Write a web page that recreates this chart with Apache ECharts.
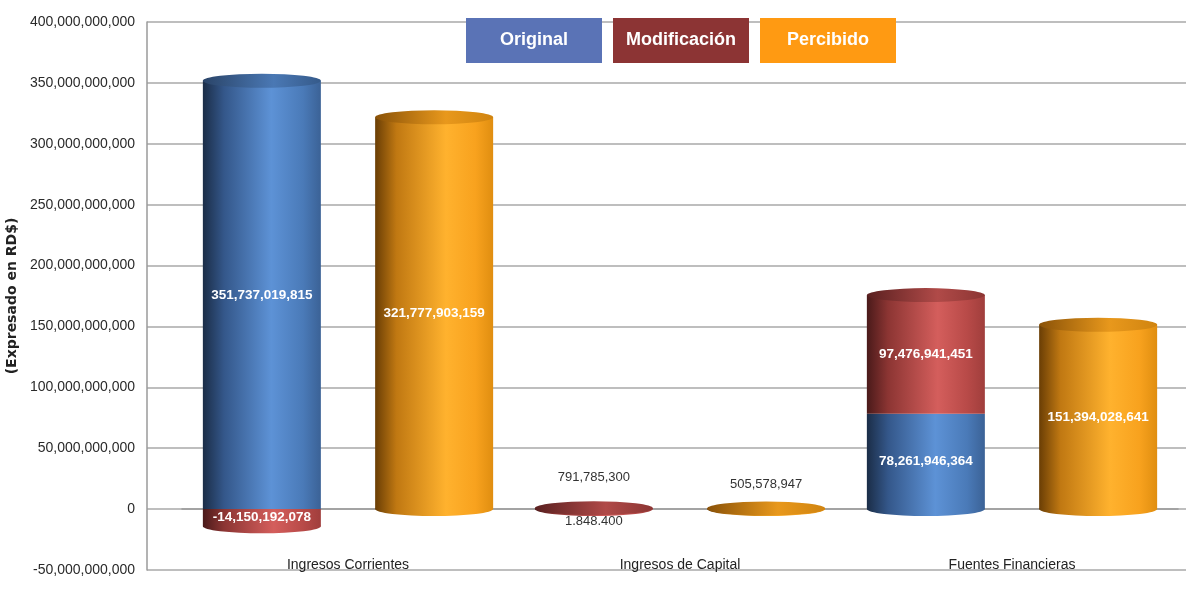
<!DOCTYPE html>
<html><head><meta charset="utf-8">
<script src="https://cdn.jsdelivr.net/npm/echarts@6/dist/echarts.min.js"></script>
<style>html,body{margin:0;padding:0;background:#fff}#c{width:1186px;height:609px}</style>
</head><body><div id="c"></div>
<script>
// ---- data ----
const categories = ['Ingresos Corrientes', 'Ingresos de Capital', 'Fuentes Financieras'];
const original = [351737019815, 1848400, 78261946364];
const modificacion = [-14150192078, 791785300, 97476941451];
const percibido = [321777903159, 505578947, 151394028641];
const seriesNames = ['Original', 'Modificación', 'Percibido'];
const axisMin = -50000000000, axisMax = 400000000000, axisStep = 50000000000;
const yAxisTitle = '(Expresado en RD$)';

// ---- styling ----
const FONT = '"Liberation Sans","Arial",sans-serif';
const BAR_W = 118, GAP = 0.46, CAP_H = 14, SMALL = 5e9;
function grad(stops) {
  return { type: 'linear', x: 0, y: 0, x2: 1, y2: 0, colorStops: stops.map(s => ({ offset: s[0], color: s[1] })) };
}
const blueBody = grad([[0, '#1b2d47'], [0.18, '#34578a'], [0.58, '#5d92d6'], [0.85, '#4a7ab8'], [1, '#3b6296']]);
const redBody = grad([[0, '#4a1a1a'], [0.18, '#8c3533'], [0.6, '#d45e5c'], [0.85, '#b84a48'], [1, '#a03e3c']]);
const orangeBody = grad([[0, '#6a3e05'], [0.18, '#c07812'], [0.6, '#ffb22e'], [0.85, '#f8a21e'], [1, '#e08e10']]);
const blueCap = grad([[0, '#2a4468'], [0.6, '#4a78b4'], [1, '#355a8a']]);
const redCap = grad([[0, '#5a2020'], [0.6, '#b04a48'], [1, '#8c3533']]);
const orangeCap = grad([[0, '#8a5208'], [0.6, '#e8981c'], [1, '#d08410']]);
const legendColors = ['#5A73B6', '#8C3434', '#FF9A12'];
const legendKeys = ['o', 'm', 'p'];

function fmt(v, sep) {
  sep = sep || ',';
  const s = Math.abs(Math.round(v)).toString().replace(/\B(?=(\d{3})+(?!\d))/g, sep);
  return (v < 0 ? '-' : '') + s;
}
const whiteLabel = { show: true, position: 'inside', color: '#fff', fontFamily: FONT, fontWeight: 'bold', fontSize: 13.5, formatter: p => fmt(p.value) };
const darkLabel = (pos, dist) => ({ show: true, position: pos, color: '#333', fontFamily: FONT, fontWeight: 'normal', fontSize: 13, distance: dist, formatter: p => fmt(p.value) });

const originalData = original.map(v => ({
  value: v,
  label: Math.abs(v) < SMALL ? Object.assign(darkLabel('bottom', 6), { formatter: p => fmt(p.value, '.') }) : whiteLabel
}));
const modData = modificacion.map(v => ({ value: v, label: Math.abs(v) < SMALL ? darkLabel('top', 24) : whiteLabel }));
const percData = percibido.map(v => ({ value: v, label: Math.abs(v) < SMALL ? darkLabel('top', 18) : whiteLabel }));

// cylinder caps derived from the stacked values
const slotOff = ((1 + GAP) / 2 * 100).toFixed(1) + '%';
const stackTop = original.map((v, i) => ({ value: v + Math.max(modificacion[i], 0), itemStyle: { color: modificacion[i] > 0 ? redCap : blueCap } }));
const stackBottom = original.map((v, i) => {
  const b = Math.min(modificacion[i], 0);
  return { value: b, symbolOffset: ['-' + slotOff, b < 0 ? CAP_H / 2 : -CAP_H / 2],
    itemStyle: { color: (modificacion[i] < 0 || v < SMALL) ? redBody : blueBody } };
});
const percTop = percibido.map(v => ({ value: v, itemStyle: { color: orangeCap } }));
const percBottom = percibido.map(() => ({ value: 0, symbolOffset: [slotOff, -CAP_H / 2], itemStyle: { color: orangeBody } }));

function cap(data, left, top) {
  return {
    type: 'pictorialBar', xAxisIndex: 1, yAxisIndex: 1, symbol: 'circle', silent: true,
    barWidth: BAR_W, barGap: '-100%', symbolSize: [BAR_W, CAP_H], symbolPosition: 'end',
    symbolOffset: [(left ? '-' : '') + slotOff, -CAP_H / 2],
    z: top ? 3 : 1, data: data
  };
}
const barCommon = { type: 'bar', xAxisIndex: 1, yAxisIndex: 1, barWidth: BAR_W, barGap: (GAP * 100) + '%' };

const option = {
  animation: false,
  backgroundColor: '#fff',
  legend: {
    top: 13, left: 456, itemGap: 6, itemWidth: 0, itemHeight: 0, icon: 'none', selectedMode: false,
    data: seriesNames,
    formatter: name => '{' + legendKeys[seriesNames.indexOf(name)] + '|' + name + '}',
    textStyle: {
      color: '#fff', fontFamily: FONT, fontWeight: 'bold', fontSize: 18,
      rich: Object.fromEntries(legendKeys.map((k, i) => [k, {
        backgroundColor: legendColors[i], width: 136, height: 45, lineHeight: 45, align: 'center',
        color: '#fff', fontFamily: FONT, fontWeight: 'bold', fontSize: 18
      }]))
    }
  },
  grid: [
    { left: 147, right: 0, top: 22, bottom: 39, outerBoundsMode: 'none', containLabel: false },
    { left: 182, right: 8, top: 22, bottom: 39, outerBoundsMode: 'none', containLabel: false }
  ],
  xAxis: [
    { gridIndex: 0, type: 'category', data: categories, show: false },
    {
      gridIndex: 1, type: 'category', data: categories, position: 'bottom', offset: -61,
      axisLine: { show: true, onZero: false, lineStyle: { color: '#9a9a9a', width: 1.5 } },
      axisTick: { show: false },
      axisLabel: { margin: 49, color: '#222', fontFamily: FONT, fontSize: 14 }
    }
  ],
  yAxis: [
    {
      gridIndex: 0, type: 'value', min: axisMin, max: axisMax, interval: axisStep,
      name: yAxisTitle, nameLocation: 'middle', nameRotate: 90, nameGap: 110,
      nameTextStyle: { fontFamily: '"DejaVu Sans",sans-serif', fontWeight: 'bold', fontSize: 14, color: '#222' },
      axisLine: { show: true, lineStyle: { color: '#9a9a9a', width: 1.5 } },
      axisTick: { show: false },
      axisLabel: { margin: 12, color: '#2a2a2a', fontFamily: FONT, fontSize: 14, formatter: v => fmt(v) },
      splitLine: { show: true, lineStyle: { color: '#a8a8a8', width: 1.5 } }
    },
    { gridIndex: 1, type: 'value', min: axisMin, max: axisMax, interval: axisStep, show: false, splitLine: { show: false } }
  ],
  series: [
    Object.assign({}, barCommon, { name: seriesNames[0], stack: 'presupuesto', itemStyle: { color: blueBody }, data: originalData }),
    Object.assign({}, barCommon, { name: seriesNames[1], stack: 'presupuesto', itemStyle: { color: redBody }, data: modData }),
    Object.assign({}, barCommon, { name: seriesNames[2], itemStyle: { color: orangeBody }, data: percData }),
    cap(stackTop, true, true),
    cap(stackBottom, true, false),
    cap(percTop, false, true),
    cap(percBottom, false, false)
  ]
};
echarts.init(document.getElementById('c'), null, { renderer: 'canvas' }).setOption(option);
</script>
</body></html>
